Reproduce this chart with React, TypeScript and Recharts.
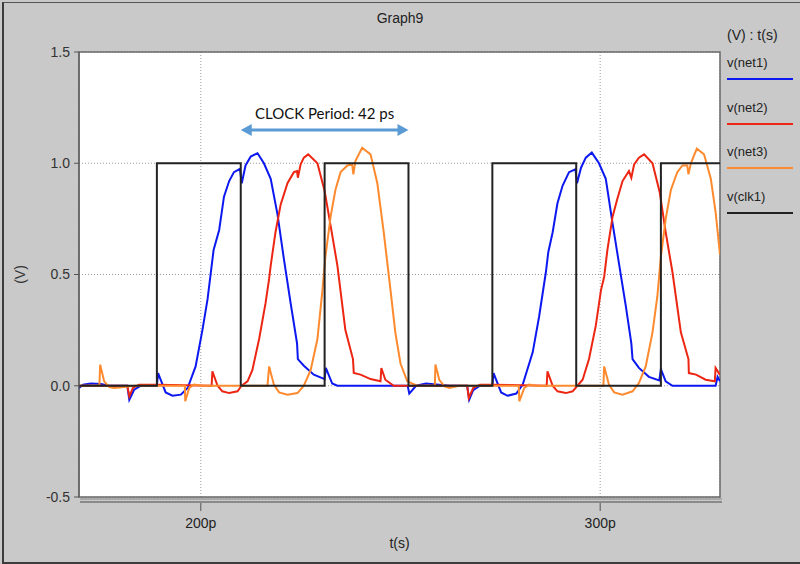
import React from "react";
import {
  LineChart,
  Line,
  XAxis,
  YAxis,
  CartesianGrid,
  ReferenceArea,
  ReferenceLine,
  Label,
} from "recharts";

// time in ps, voltage in V
const timeDomain: [number, number] = [169.5, 330];
const timeTicks = [200, 300];
const voltTicks = [-0.5, 0, 0.5, 1.0, 1.5];

const net1: [number, number][] = [
  [169.5, -0.01], [170.5, 0.005], [172.5, 0.01], [175, 0.008], [177, 0], [181.6, 0],
  [182.1, -0.063], [183.3, -0.018], [185, 0], [189, 0], [189.3, 0.057], [191.2, -0.03],
  [192.9, -0.045], [195, -0.04], [196.7, -0.01], [198.7, 0.087], [200.4, 0.25], [201.7, 0.39],
  [203.2, 0.61], [204.6, 0.7], [205.8, 0.85], [207.1, 0.92], [208.3, 0.96], [209.8, 0.975],
  [210.25, 0.91], [211.2, 0.99], [212.5, 1.03], [214.2, 1.045], [215.8, 1.0], [217.5, 0.93],
  [219.2, 0.77], [220.8, 0.57], [222.5, 0.37], [224.1, 0.19], [224.3, 0.12], [225.8, 0.09],
  [228.3, 0.05], [231, 0.03], [231.3, 0.08], [232.9, 0.01], [234.2, 0], [245, 0], [251.8, 0],
  [252.2, -0.035], [253.9, 0], [256.4, 0.01], [262.2, 0], [266.7, 0], [267.2, -0.063],
  [268.2, -0.02], [269.9, 0], [273, 0], [273.3, 0.057], [275.2, -0.03], [276.8, -0.045],
  [279, -0.035], [280.6, 0.005], [283.1, 0.15], [284.7, 0.31], [286.4, 0.51], [287, 0.6],
  [288.1, 0.69], [289.3, 0.82], [290.6, 0.9], [292.2, 0.96], [293.8, 0.973], [294.2, 0.91],
  [295.2, 0.98], [296.4, 1.025], [297.9, 1.048], [299.7, 1.0], [301.4, 0.93], [303.1, 0.73],
  [304.7, 0.55], [306.4, 0.36], [307.8, 0.19], [308.1, 0.12], [309.7, 0.08], [312.2, 0.04],
  [314.8, 0.024], [315.2, 0.075], [316.4, 0.02], [318.1, 0], [328.9, 0], [329.4, 0.04], [330, 0.02],
];

const net2: [number, number][] = [
  [169.5, 0], [181.6, 0], [182.1, -0.048], [183, -0.01], [184.5, 0.005], [189, 0.005],
  [202.7, 0], [202.9, 0.065], [204.2, 0], [205.4, -0.025], [207.1, -0.033], [209.2, -0.025],
  [210.2, 0], [211.7, 0.02], [212.9, 0.07], [214.6, 0.21], [216.2, 0.37], [217.1, 0.48],
  [217.5, 0.54], [218.7, 0.69], [220, 0.815], [221.7, 0.91], [223.3, 0.96], [224.1, 0.965],
  [224.3, 0.935], [225, 0.995], [225.8, 1.025], [226.9, 1.04], [229.2, 1.0], [231, 0.875],
  [232.5, 0.72], [234.2, 0.54], [236.2, 0.25], [238.1, 0.12], [238.3, 0.057], [240, 0.05],
  [242.5, 0.03], [245, 0.02], [245.2, 0.08], [246.2, 0.027], [248.3, 0], [266.7, 0],
  [267.1, -0.055], [268.2, -0.01], [269.9, 0.005], [273, 0.005], [286.6, 0], [286.8, 0.065],
  [288.1, 0], [289.3, -0.025], [291.4, -0.033], [293.1, -0.025], [294.3, 0], [295.6, 0.027],
  [297.2, 0.12], [298.9, 0.27], [300.2, 0.43], [301, 0.49], [301.8, 0.61], [303.1, 0.76],
  [304.3, 0.84], [305.6, 0.92], [307.2, 0.965], [307.8, 0.935], [308.5, 0.995], [309.7, 1.025],
  [311, 1.04], [313.1, 1.0], [314.9, 0.87], [316.4, 0.69], [318.1, 0.51], [320.2, 0.24],
  [322.1, 0.12], [322.2, 0.057], [324, 0.05], [326.4, 0.027], [328.7, 0.02], [328.9, 0.08],
  [329.7, 0.057], [330, 0.05],
];

const net3: [number, number][] = [
  [169.5, 0], [174.6, 0], [174.8, 0.095], [175.8, 0.02], [177.1, -0.006], [178.3, -0.01],
  [180.8, -0.006], [183.3, 0], [196, 0], [196.1, -0.07], [197.1, -0.01], [198.3, 0.005],
  [200.5, 0], [216.7, 0], [217.1, 0.087], [218.3, 0.005], [219.6, -0.03], [221.7, -0.04],
  [224.2, -0.033], [225.8, 0], [227.5, 0.07], [229.2, 0.21], [230.4, 0.42], [231.2, 0.58],
  [232.5, 0.76], [233.7, 0.88], [235, 0.96], [236.7, 0.99], [237.9, 0.995], [238.2, 0.95],
  [238.7, 1.01], [240.4, 1.07], [242.5, 1.04], [244.2, 0.91], [245.8, 0.69], [247.5, 0.43],
  [248.7, 0.24], [250, 0.1], [251.7, 0.02], [254.2, 0], [258.6, 0], [258.75, 0.095],
  [259.7, 0.027], [261, -0.003], [262.2, -0.01], [264.7, 0], [279.6, 0], [279.75, -0.07],
  [281, -0.01], [282.2, 0.005], [284, 0], [300.8, 0], [301, 0.087], [302.2, 0.005],
  [303.5, -0.03], [305.6, -0.04], [308.1, -0.025], [309.7, 0.012], [311.4, 0.087], [313.1, 0.24],
  [314.3, 0.4], [315.2, 0.58], [316.4, 0.75], [317.7, 0.88], [319.3, 0.96], [320.6, 0.99],
  [321.8, 0.99], [322.1, 0.95], [322.7, 1.0], [324.2, 1.066], [326, 1.04], [327.7, 0.93],
  [328.9, 0.78], [330, 0.59],
];

const clk1: [number, number][] = [
  [169.5, 0], [189, 0], [189, 1], [210, 1], [210, 0], [231, 0], [231, 1], [252, 1],
  [252, 0], [273, 0], [273, 1], [294, 1], [294, 0], [315.2, 0], [315.2, 1], [330, 1],
];

// arrow marking one clock period (falling edge to falling edge)
const periodSpan = [
  { x: 210, y: 1.15 },
  { x: 252, y: 1.15 },
];

const series = [
  { name: "v(net1)", color: "#0c18f0", points: net1 },
  { name: "v(net2)", color: "#ec2612", points: net2 },
  { name: "v(net3)", color: "#fd8a2e", points: net3 },
  { name: "v(clk1)", color: "#222222", points: clk1 },
];

const narrow = '"Liberation Sans Narrow", "Liberation Sans", Arial, sans-serif';
const plain = '"Liberation Sans", Arial, sans-serif';

const toRows = (pts: [number, number][]) => pts.map(([t, v]) => ({ t, v }));

function TimeTick({ x, y, payload }: any) {
  return (
    <g>
      <line x1={x} x2={x} y1={y + 6} y2={y + 14} stroke="#555" />
      <text x={x} y={y + 31} textAnchor="middle" fontSize={14} fill="#222" fontFamily={narrow}>
        {payload.value}p
      </text>
    </g>
  );
}

function PeriodArrow(props: any) {
  const { x1, y1, x2, y2 } = props;
  if (x1 == null || y1 == null) return null;
  const head = 11;
  const half = 6;
  const c = "#5b9bd5";
  return (
    <g>
      <line x1={x1 + head - 1} y1={y1} x2={x2 - head + 1} y2={y2} stroke={c} strokeWidth={3} />
      <polygon points={`${x1},${y1} ${x1 + head},${y1 - half} ${x1 + head},${y1 + half}`} fill={c} />
      <polygon points={`${x2},${y2} ${x2 - head},${y2 - half} ${x2 - head},${y2 + half}`} fill={c} />
      <text
        x={(x1 + x2) / 2}
        y={y1 - 11}
        textAnchor="middle"
        fontSize={15}
        fill="#111"
        fontFamily="Lato, 'Open Sans', sans-serif"
      >
        CLOCK Period: 42 ps
      </text>
    </g>
  );
}

export default function App() {
  return (
    <div
      style={{
        position: "absolute",
        left: 0,
        top: 0,
        width: 800,
        height: 564,
        background: "#c9c9c9",
        overflow: "hidden",
      }}
    >
      <div
        style={{
          position: "absolute",
          left: 2,
          top: 2,
          width: 800,
          height: 559,
          borderLeft: "2px solid #3c3c3c",
          borderTop: "1px solid #555",
          borderBottom: "2px solid #3c3c3c",
        }}
      />
      <div
        style={{
          position: "absolute",
          left: 0,
          top: 10,
          width: 800,
          textAlign: "center",
          fontFamily: narrow,
          fontSize: 14,
          color: "#222",
        }}
      >
        Graph9
      </div>

      <LineChart width={800} height={564} margin={{ top: 52, right: 80, bottom: 37, left: 0 }}>
        <CartesianGrid fill="#ffffff" stroke="#9a9a9a" strokeDasharray="1 2" />
        <XAxis
          type="number"
          dataKey="t"
          domain={timeDomain}
          ticks={timeTicks}
          allowDataOverflow
          height={30}
          axisLine={false}
          tickLine={false}
          tickSize={0}
          tickMargin={0}
          tick={<TimeTick />}
        >
          <Label
            content={({ viewBox }: any) => (
              <text
                x={viewBox.x + viewBox.width / 2}
                y={viewBox.y + 51}
                textAnchor="middle"
                fontSize={14}
                fill="#222"
                fontFamily={narrow}
              >
                t(s)
              </text>
            )}
          />
        </XAxis>
        <YAxis
          type="number"
          domain={[-0.5, 1.5]}
          ticks={voltTicks}
          allowDataOverflow
          width={79}
          axisLine={{ stroke: "#555" }}
          tickLine={{ stroke: "#555" }}
          tickSize={5}
          tickMargin={4}
          tickFormatter={(v: number) => v.toFixed(1)}
          tick={{ fontSize: 14, fill: "#333", fontFamily: narrow }}
        >
          <Label
            content={({ viewBox }: any) => {
              const cx = viewBox.x + 20;
              const cy = viewBox.y + viewBox.height / 2;
              return (
                <text
                  x={cx}
                  y={cy}
                  transform={`rotate(-90 ${cx} ${cy})`}
                  textAnchor="middle"
                  dominantBaseline="central"
                  fontSize={14}
                  fill="#333"
                  fontFamily={narrow}
                >
                  (V)
                </text>
              );
            }}
          />
        </YAxis>
        <ReferenceArea
          x1={timeDomain[0]}
          x2={timeDomain[1]}
          y1={-0.5}
          y2={1.5}
          fill="none"
          stroke="#6a6a6a"
          strokeWidth={1.5}
        />
        {series.map((s) => (
          <Line
            key={s.name}
            data={toRows(s.points)}
            dataKey="v"
            name={s.name}
            type="linear"
            stroke={s.color}
            strokeWidth={2}
            dot={false}
            activeDot={false}
            isAnimationActive={false}
          />
        ))}
        <ReferenceLine segment={periodSpan} shape={<PeriodArrow />} ifOverflow="visible" />
      </LineChart>

      {/* double rule under the plot */}
      <div
        style={{
          position: "absolute",
          left: 80,
          top: 498,
          width: 642,
          height: 1,
          borderTop: "2px solid #a9a9a9",
          borderBottom: "2px solid #8a8a8a",
        }}
      />

      <div
        style={{
          position: "absolute",
          left: 727,
          top: 27,
          fontFamily: narrow,
          fontSize: 14,
          color: "#222",
        }}
      >
        (V) : t(s)
      </div>
      {series.map((s, i) => (
        <div
          key={s.name}
          style={{ position: "absolute", left: 727, top: 55 + i * 44.5, width: 66 }}
        >
          <div style={{ fontFamily: plain, fontSize: 13, color: "#222", lineHeight: "16px" }}>
            {s.name}
          </div>
          <div style={{ marginTop: 7, height: 2, background: s.color }} />
        </div>
      ))}
    </div>
  );
}
